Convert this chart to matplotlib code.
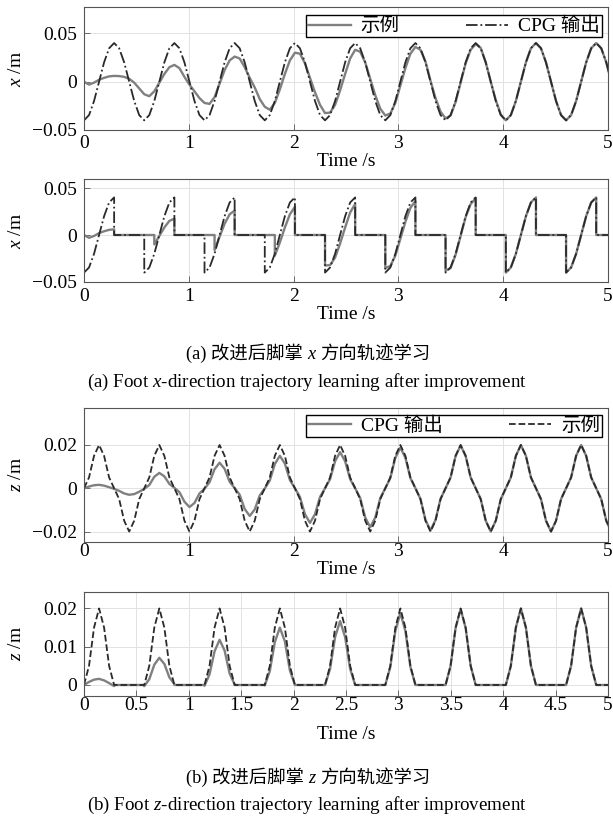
import numpy as np
import matplotlib
matplotlib.use("Agg")
import matplotlib.pyplot as plt
from matplotlib.offsetbox import TextArea, HPacker, AnchoredOffsetbox

plt.rcParams["font.family"] = ["Liberation Serif", "Noto Sans CJK SC"]
plt.rcParams["mathtext.fontset"] = "custom"
plt.rcParams["mathtext.rm"] = "Liberation Serif"
plt.rcParams["mathtext.it"] = "Liberation Serif:italic"

# samples, 12 per gait cycle (cycle ~0.575 s)
dt = 0.575 / 12

# foot x: demonstration (grey) and CPG output (dark dash-dot)
x_demo = [
    0.0, -0.003, -0.001, 0.002, 0.004, 0.0055, 0.006, 0.0058, 0.005, 0.003, -0.001, -0.007,
    -0.013, -0.015, -0.010, -0.001, 0.008, 0.015, 0.0174, 0.014, 0.005, -0.003, -0.010, -0.017,
    -0.022, -0.023, -0.016, -0.002, 0.012, 0.022, 0.026, 0.024, 0.015, 0.004, -0.006, -0.018,
    -0.026, -0.029, -0.022, -0.008, 0.008, 0.022, 0.030, 0.029, 0.019, 0.004, -0.011, -0.024,
    -0.0325, -0.032, -0.024, -0.009, 0.008, 0.024, 0.033, 0.031, 0.020, 0.003, -0.014, -0.028,
    -0.035, -0.033, -0.022, -0.004, 0.014, 0.029, 0.036, 0.033, 0.021, 0.001, -0.017, -0.031,
    -0.038, -0.035, -0.021, -0.001, 0.019, 0.033, 0.039, 0.035, 0.020, 0.0, -0.019, -0.034,
    -0.040, -0.0346, -0.020, 0.0, 0.020, 0.0346, 0.040, 0.0346, 0.020, 0.0, -0.020, -0.0346,
    -0.040, -0.0346, -0.020, 0.0, 0.020, 0.0346, 0.040, 0.0346, 0.020, 0.0,
]
x_cpg = [
    -0.04, -0.0346, -0.02, 0.0, 0.02, 0.0346, 0.04, 0.0346, 0.02, 0.0, -0.02, -0.0346,
    -0.04, -0.0346, -0.02, 0.0, 0.02, 0.0346, 0.04, 0.0346, 0.02, 0.0, -0.02, -0.0346,
    -0.04, -0.0346, -0.02, 0.0, 0.02, 0.0346, 0.04, 0.0346, 0.02, 0.0, -0.02, -0.0346,
    -0.04, -0.0346, -0.02, 0.0, 0.02, 0.0346, 0.04, 0.0346, 0.02, 0.0, -0.02, -0.0346,
    -0.04, -0.0346, -0.02, 0.0, 0.02, 0.0346, 0.04, 0.0346, 0.02, 0.0, -0.02, -0.0346,
    -0.04, -0.0346, -0.02, 0.0, 0.02, 0.0346, 0.04, 0.0346, 0.02, 0.0, -0.02, -0.0346,
    -0.04, -0.0346, -0.02, 0.0, 0.02, 0.0346, 0.04, 0.0346, 0.02, 0.0, -0.02, -0.0346,
    -0.04, -0.0346, -0.02, 0.0, 0.02, 0.0346, 0.04, 0.0346, 0.02, 0.0, -0.02, -0.0346,
    -0.04, -0.0346, -0.02, 0.0, 0.02, 0.0346, 0.04, 0.0346, 0.02, 0.0,
]

# foot z: CPG output (grey) and demonstration (dark dashed)
z_cpg = [
    0.0, 0.0008, 0.0014, 0.0016, 0.0012, 0.0005, -0.0003, -0.0012, -0.0024, -0.0030, -0.0027, -0.0016,
    -0.0003, 0.0015, 0.0053, 0.0071, 0.0055, 0.0020, 0.0002, -0.0018, -0.0062, -0.0087, -0.0068, -0.0024,
    -0.0002, 0.0028, 0.0088, 0.0118, 0.0090, 0.0030, 0.0001, -0.0030, -0.0096, -0.0128, -0.0098, -0.0033,
    -0.0001, 0.0036, 0.0112, 0.0150, 0.0114, 0.0038, 0.0, -0.0040, -0.0120, -0.0160, -0.0120, -0.0040,
    0.0, 0.0042, 0.0125, 0.0167, 0.0125, 0.0042, 0.0, -0.0045, -0.0135, -0.0180, -0.0135, -0.0045,
    0.0, 0.0047, 0.0141, 0.0188, 0.0141, 0.0047, 0.0, -0.0049, -0.0146, -0.0195, -0.0146, -0.0049,
    0.0, 0.0050, 0.0149, 0.0198, 0.0149, 0.0050, 0.0, -0.0050, -0.0150, -0.0200, -0.0150, -0.0050,
    0.0, 0.005, 0.015, 0.02, 0.015, 0.005, 0.0, -0.005, -0.015, -0.02, -0.015, -0.005,
    0.0, 0.005, 0.015, 0.02, 0.015, 0.005, 0.0, -0.005, -0.015, -0.02,
]
z_demo = [
    0.0, 0.005, 0.015, 0.02, 0.015, 0.005, 0.0, -0.005, -0.015, -0.02, -0.015, -0.005,
    0.0, 0.005, 0.015, 0.02, 0.015, 0.005, 0.0, -0.005, -0.015, -0.02, -0.015, -0.005,
    0.0, 0.005, 0.015, 0.02, 0.015, 0.005, 0.0, -0.005, -0.015, -0.02, -0.015, -0.005,
    0.0, 0.005, 0.015, 0.02, 0.015, 0.005, 0.0, -0.005, -0.015, -0.02, -0.015, -0.005,
    0.0, 0.005, 0.015, 0.02, 0.015, 0.005, 0.0, -0.005, -0.015, -0.02, -0.015, -0.005,
    0.0, 0.005, 0.015, 0.02, 0.015, 0.005, 0.0, -0.005, -0.015, -0.02, -0.015, -0.005,
    0.0, 0.005, 0.015, 0.02, 0.015, 0.005, 0.0, -0.005, -0.015, -0.02, -0.015, -0.005,
    0.0, 0.005, 0.015, 0.02, 0.015, 0.005, 0.0, -0.005, -0.015, -0.02, -0.015, -0.005,
    0.0, 0.005, 0.015, 0.02, 0.015, 0.005, 0.0, -0.005, -0.015, -0.02,
]

# swing phases (start / end times) used in the lower plots
swing_start = [0.0, 0.575, 1.15, 1.725, 2.3, 2.875, 3.45, 4.025, 4.6]
swing_start_demo_x = [0.0, 0.623, 1.198, 1.773, 2.3, 2.875, 3.45, 4.025, 4.6]
swing_end = [0.2875, 0.8625, 1.4375, 2.0125, 2.5875, 3.1625, 3.7375, 4.3125, 4.8875]

x_ticks = [0, 1, 2, 3, 4, 5]
x_ticks_fine = [0, 0.5, 1, 1.5, 2, 2.5, 3, 3.5, 4, 4.5, 5]
x_ticklabels_fine = ["0", "0.5", "1", "1.5", "2", "2.5", "3", "3.5", "4", "4.5", "5"]

t = np.arange(len(x_cpg)) * dt

GREY = "#808080"
DARK = "#2a2a2a"


def swing_only(t, v, starts, ends):
    """keep the samples inside each swing window, zero elsewhere"""
    v = np.asarray(v)
    ts, vs = [], []
    for a, b in zip(starts, ends):
        m = (t > a - 1e-6) & (t < b + 1e-6)
        ts += [t[m][0]] + list(t[m]) + [t[m][-1]]
        vs += [0.0] + list(v[m]) + [0.0]
    ts.append(t[-1])
    vs.append(0.0)
    return ts, vs


W, H = 613, 816
fig = plt.figure(figsize=(W / 100, H / 100), dpi=100)


def make_axes(top, bottom):
    return fig.add_axes([84 / W, 1 - bottom / H, 524 / W, (bottom - top) / H])


def style(ax, ylim, yticks, yticklabels, ylabel, xlab_y, xpad, xticks=x_ticks, xticklabels=None):
    ax.set_xlim(0, 5)
    ax.set_ylim(*ylim)
    ax.set_xticks(xticks, xticklabels if xticklabels else [str(v) for v in xticks])
    ax.set_yticks(yticks, yticklabels)
    ax.grid(True, color="#e2e2e2", lw=0.7)
    ax.set_axisbelow(True)
    for s in ax.spines.values():
        s.set_color("#555555")
        s.set_linewidth(0.8)
    ax.tick_params(direction="in", length=4, width=0.6, color="#555555", labelsize=14)
    ax.tick_params(axis="x", pad=xpad)
    ax.tick_params(axis="y", pad=5)
    ax.set_xlabel("Time /s", fontsize=14)
    ax.xaxis.label.set_va("center")
    ax.xaxis.set_label_coords(0.5, xlab_y)
    ax.set_ylabel(ylabel, fontsize=14)
    ax.yaxis.label.set_va("center")
    ax.yaxis.set_label_coords(-0.128, 0.5)


def caption_zh(y_px, head, var, tail):
    # mixed Chinese text with an italic variable, packed side by side
    kw = dict(fontsize=13.2)
    parts = [TextArea(head, textprops=kw),
             TextArea(var, textprops=dict(kw, style="italic")),
             TextArea(tail, textprops=kw)]
    pack = HPacker(children=parts, align="baseline", pad=0, sep=3.5)
    box = AnchoredOffsetbox(loc="center", child=pack, frameon=False, pad=0, borderpad=0,
                            bbox_to_anchor=(0.503, 1 - y_px / H), bbox_transform=fig.transFigure)
    fig.add_artist(box)


leg_kw = dict(loc="upper right", ncol=2, fancybox=False, edgecolor="black", framealpha=1,
              borderpad=0.1, handlelength=2.2, handletextpad=0.5, columnspacing=3.4,
              borderaxespad=0, fontsize=14)

# (a) x direction
ax1 = make_axes(7.3, 130)
ax1.plot(t, x_demo, color=GREY, lw=1.7, label="示例")
ax1.plot(t, x_cpg, color=DARK, lw=1.3, ls="-.", label="CPG 输出")
style(ax1, (-0.05, 0.077), [-0.05, 0, 0.05], ["\u22120.05", "0", "0.05"], "$x$ /m", -0.257, 3.6)
leg = ax1.legend(bbox_to_anchor=(0.9885, 0.937), **leg_kw)
leg.get_frame().set_linewidth(1.0)

ax2 = make_axes(179, 282)
ts, vs = swing_only(t, x_demo, swing_start_demo_x, swing_end)
ax2.plot(ts, vs, color=GREY, lw=1.7)
ts, vs = swing_only(t, x_cpg, swing_start, swing_end)
ax2.plot(ts, vs, color=DARK, lw=1.3, ls="-.")
style(ax2, (-0.05, 0.0596), [-0.05, 0, 0.05], ["\u22120.05", "0", "0.05"], "$x$ /m", -0.316, 4.3)

caption_zh(353, "(a) 改进后脚掌", "x", "方向轨迹学习")
fig.text(0.5, 1 - 382 / H, "(a) Foot $x$-direction trajectory learning after improvement",
         ha="center", va="center", fontsize=13.7)

# (b) z direction
ax3 = make_axes(408, 541.7)
ax3.plot(t, z_cpg, color=GREY, lw=1.7, label="CPG 输出")
ax3.plot(t, z_demo, color=DARK, lw=1.3, ls="--", label="示例")
style(ax3, (-0.0247, 0.0371), [-0.02, 0, 0.02], ["\u22120.02", "0", "0.02"], "$z$ /m", -0.208, 1.2)
leg = ax3.legend(bbox_to_anchor=(0.9885, 0.948), **leg_kw)
leg.get_frame().set_linewidth(1.0)

ax4 = make_axes(592, 695.7)
ts, vs = swing_only(t, z_cpg, swing_start, swing_end)
ax4.plot(ts, vs, color=GREY, lw=1.7)
ts, vs = swing_only(t, z_demo, swing_start, swing_end)
ax4.plot(ts, vs, color=DARK, lw=1.3, ls="--")
style(ax4, (-0.0028, 0.0243), [0, 0.01, 0.02], ["0", "0.01", "0.02"], "$z$ /m", -0.374, 1.0,
      xticks=x_ticks_fine, xticklabels=x_ticklabels_fine)

caption_zh(777, "(b) 改进后脚掌", "z", "方向轨迹学习")
fig.text(0.5, 1 - 805 / H, "(b) Foot $z$-direction trajectory learning after improvement",
         ha="center", va="center", fontsize=13.7)

fig.savefig("out.png", dpi=100)
